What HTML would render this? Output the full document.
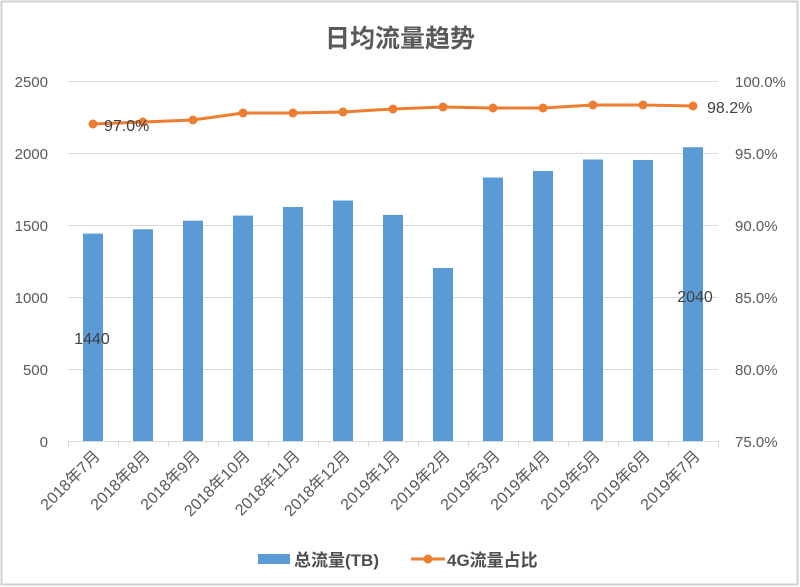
<!DOCTYPE html>
<html><head><meta charset="utf-8"><style>
html,body{margin:0;padding:0;background:#fff}
svg{display:block}
text{font-family:"Liberation Sans","Noto Sans CJK SC",sans-serif;fill:#595959}
</style></head><body>
<svg width="800" height="587" viewBox="0 0 800 587" xmlns="http://www.w3.org/2000/svg">
<rect x="1.5" y="1.5" width="796" height="583" fill="#fff" stroke="#d0d0d0" stroke-width="2"/>
<text x="400" y="47" text-anchor="middle" font-size="25" font-weight="bold" style="fill:#595959">日均流量趋势</text>
<g stroke="#d9d9d9" stroke-width="1">
<line x1="68" y1="81.5" x2="718" y2="81.5"/>
<line x1="68" y1="153.5" x2="718" y2="153.5"/>
<line x1="68" y1="225.5" x2="718" y2="225.5"/>
<line x1="68" y1="297.5" x2="718" y2="297.5"/>
<line x1="68" y1="369.5" x2="718" y2="369.5"/>
<line x1="68" y1="441.5" x2="718" y2="441.5"/>
</g>
<g stroke="#d9d9d9" stroke-width="1">
<line x1="68.5" y1="441" x2="68.5" y2="447"/><line x1="118.5" y1="441" x2="118.5" y2="447"/><line x1="168.5" y1="441" x2="168.5" y2="447"/><line x1="218.5" y1="441" x2="218.5" y2="447"/><line x1="268.5" y1="441" x2="268.5" y2="447"/><line x1="318.5" y1="441" x2="318.5" y2="447"/><line x1="368.5" y1="441" x2="368.5" y2="447"/><line x1="418.5" y1="441" x2="418.5" y2="447"/><line x1="468.5" y1="441" x2="468.5" y2="447"/><line x1="518.5" y1="441" x2="518.5" y2="447"/><line x1="568.5" y1="441" x2="568.5" y2="447"/><line x1="618.5" y1="441" x2="618.5" y2="447"/><line x1="668.5" y1="441" x2="668.5" y2="447"/><line x1="718.5" y1="441" x2="718.5" y2="447"/>
</g>
<g font-size="15" text-anchor="end">
<text x="48" y="87">2500</text><text x="48" y="159">2000</text><text x="48" y="231">1500</text><text x="48" y="303">1000</text><text x="48" y="375">500</text><text x="48" y="447">0</text>
</g>
<g font-size="15" text-anchor="start">
<text x="735" y="87">100.0%</text><text x="735" y="159">95.0%</text><text x="735" y="231">90.0%</text><text x="735" y="303">85.0%</text><text x="735" y="375">80.0%</text><text x="735" y="447">75.0%</text>
</g>
<g fill="#5b9bd5">
<rect x="83" y="233.6" width="20" height="207.4"/>
<rect x="133" y="229.3" width="20" height="211.7"/>
<rect x="183" y="220.7" width="20" height="220.3"/>
<rect x="233" y="215.6" width="20" height="225.4"/>
<rect x="283" y="207" width="20" height="234"/>
<rect x="333" y="200.5" width="20" height="240.5"/>
<rect x="383" y="214.9" width="20" height="226.1"/>
<rect x="433" y="268" width="20" height="173"/>
<rect x="483" y="177.5" width="20" height="263.5"/>
<rect x="533" y="171" width="20" height="270"/>
<rect x="583" y="159.5" width="20" height="281.5"/>
<rect x="633" y="160" width="20" height="281"/>
<rect x="683" y="147.2" width="20" height="293.8"/>
</g>
<polyline fill="none" stroke="#ed7d31" stroke-width="3" points="93,124 143,122 193,120 243,113 293,113 343,112 393,109 443,107 493,108 543,108 593,105 643,105 693,106"/>
<g fill="#ed7d31">
<circle cx="93" cy="124" r="4.5"/><circle cx="143" cy="122" r="4.5"/><circle cx="193" cy="120" r="4.5"/><circle cx="243" cy="113" r="4.5"/><circle cx="293" cy="113" r="4.5"/><circle cx="343" cy="112" r="4.5"/><circle cx="393" cy="109" r="4.5"/><circle cx="443" cy="107" r="4.5"/><circle cx="493" cy="108" r="4.5"/><circle cx="543" cy="108" r="4.5"/><circle cx="593" cy="105" r="4.5"/><circle cx="643" cy="105" r="4.5"/><circle cx="693" cy="106" r="4.5"/>
</g>
<g font-size="16" style="fill:#404040">
<text x="104" y="131" style="fill:#404040">97.0%</text>
<text x="707" y="113" style="fill:#404040">98.2%</text>
<text x="92" y="344" text-anchor="middle" style="fill:#404040">1440</text>
<text x="695" y="302" text-anchor="middle" style="fill:#404040">2040</text>
</g>
<g font-size="16" text-anchor="end">
<text transform="translate(101,457) rotate(-45)">2018年7月</text>
<text transform="translate(151,457) rotate(-45)">2018年8月</text>
<text transform="translate(201,457) rotate(-45)">2018年9月</text>
<text transform="translate(251,457) rotate(-45)">2018年10月</text>
<text transform="translate(301,457) rotate(-45)">2018年11月</text>
<text transform="translate(351,457) rotate(-45)">2018年12月</text>
<text transform="translate(401,457) rotate(-45)">2019年1月</text>
<text transform="translate(451,457) rotate(-45)">2019年2月</text>
<text transform="translate(501,457) rotate(-45)">2019年3月</text>
<text transform="translate(551,457) rotate(-45)">2019年4月</text>
<text transform="translate(601,457) rotate(-45)">2019年5月</text>
<text transform="translate(651,457) rotate(-45)">2019年6月</text>
<text transform="translate(701,457) rotate(-45)">2019年7月</text>
</g>
<rect x="258" y="554" width="32" height="10" fill="#5b9bd5"/>
<text x="294" y="566" font-size="17" font-weight="bold" style="fill:#4d4d4d">总流量(TB)</text>
<line x1="411" y1="559" x2="445" y2="559" stroke="#ed7d31" stroke-width="3"/>
<circle cx="428" cy="559" r="4.5" fill="#ed7d31"/>
<text x="447" y="566" font-size="17" font-weight="bold" style="fill:#4d4d4d">4G流量占比</text>
</svg>
</body></html>
